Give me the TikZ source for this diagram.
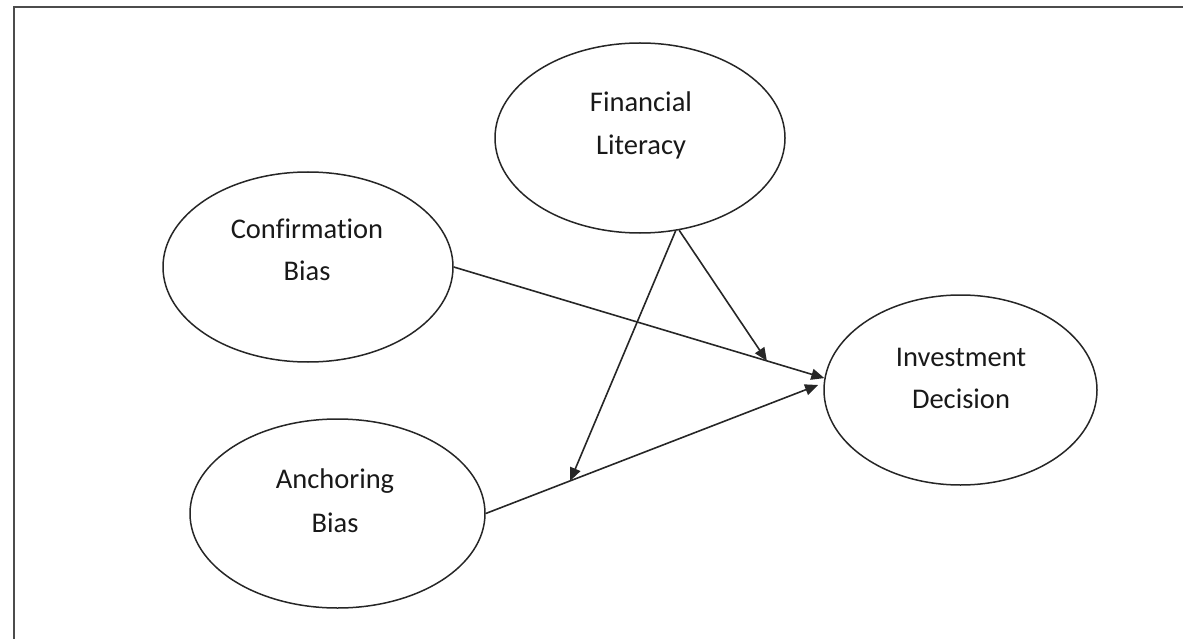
\documentclass[tikz,border=0pt]{standalone}
\usepackage{fontspec}
\setmainfont[Ligatures=NoCommon]{Carlito}
\usetikzlibrary{shapes.geometric,arrows.meta,calc}
\begin{document}
\begin{tikzpicture}[x=1pt,y=-1pt,
  oval/.style={draw=black!85,line width=1.5pt,ellipse,inner sep=0pt},
  lbl/.style={anchor=base,inner sep=0pt,text=black!90,font=\fontsize{28.5}{34}\selectfont},
  arr/.style={draw=black!85,line width=1.6pt,-{Triangle[length=13pt,width=11pt]}}]
\useasboundingbox (0,0) rectangle (1183,639);
\draw[black!70,line width=2pt] (14,639) -- (14,7) -- (1183,7);
% ellipses
\node[oval,minimum width=290pt,minimum height=190pt] (fl) at (640,138) {};
\node[oval,minimum width=290pt,minimum height=190pt] (conf) at (308,267) {};
\node[oval,minimum width=295pt,minimum height=189pt] (anch) at (337.5,513.5) {};
\node[oval,minimum width=273pt,minimum height=190pt] (inv) at (960.5,390) {};
% labels
\node[lbl] (fl1) at (641,112) {Financial};
\node[lbl] (fl2) at (641,155) {Literacy};
\node[lbl] (cf1) at (307,238) {Confirmation};
\node[lbl] (cf2) at (307,280) {Bias};
\node[lbl] (an1) at (335,488) {Anchoring};
\node[lbl] (an2) at (335,532) {Bias};
\node[lbl] (iv1) at (961,366) {Investment};
\node[lbl] (iv2) at (961,408) {Decision};
% connectors
\draw[arr] (conf.east) -- (inv.175);
\draw[arr,shorten >=6pt] (anch.east) -- (inv.177);
\coordinate (m1) at ($(conf.east)!0.845!(inv.175)$);
\coordinate (m2) at ($(anch.east)!0.25!(inv.177)$);
\draw[arr] (fl.-67) -- (m1);
\draw[arr] (fl.-69) -- (m2);
\end{tikzpicture}
\end{document}
